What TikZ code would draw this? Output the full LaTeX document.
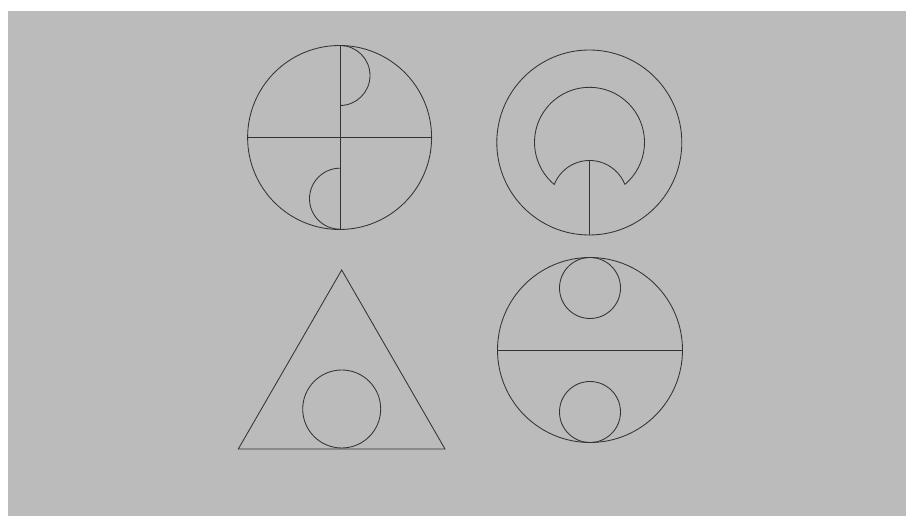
\documentclass[tikz,border=0pt]{standalone}
\usepackage{tikz}
\definecolor{bggray}{HTML}{BBBBBB}
\definecolor{ink}{HTML}{333333}
\begin{document}
\begin{tikzpicture}[x=1pt,y=1pt,shape line/.style={draw=ink,line width=0.85pt}]
\useasboundingbox (0,0) rectangle (906,516);
\fill[white] (0,0) rectangle (906,516);
\fill[bggray] (8,0) rectangle (906,505);
% Top-left circle
\draw[shape line] (339.6,378.5) circle[radius=92];
\draw[shape line] (247.6,378.5) -- (431.6,378.5);
\draw[shape line] (340,470.5) -- (340,286.5);
\draw[shape line] (340,470.5) arc[start angle=90,end angle=-90,radius=30];
\draw[shape line] (340,347.8) arc[start angle=90,end angle=270,radius=30.5];
% Top-right ring
\draw[shape line] (589.3,373.5) circle[radius=92.5];
\draw[shape line] (624.8,331.5) arc[start angle=-50.1,end angle=230.1,radius=55]
  arc[start angle=158.4,end angle=21.6,radius=38];
\draw[shape line] (589.5,355.5) -- (589.5,281);
% Triangle
\draw[shape line] (341.7,246) -- (238.3,67) -- (445,67) -- cycle;
\draw[shape line] (341.7,107) circle[radius=39];
% Bottom-right circle
\draw[shape line] (590,166) circle[radius=92.5];
\draw[shape line] (497.5,165.5) -- (682.5,165.5);
\draw[shape line] (590,228) circle[radius=30.5];
\draw[shape line] (590,104) circle[radius=30.5];
\end{tikzpicture}
\end{document}
